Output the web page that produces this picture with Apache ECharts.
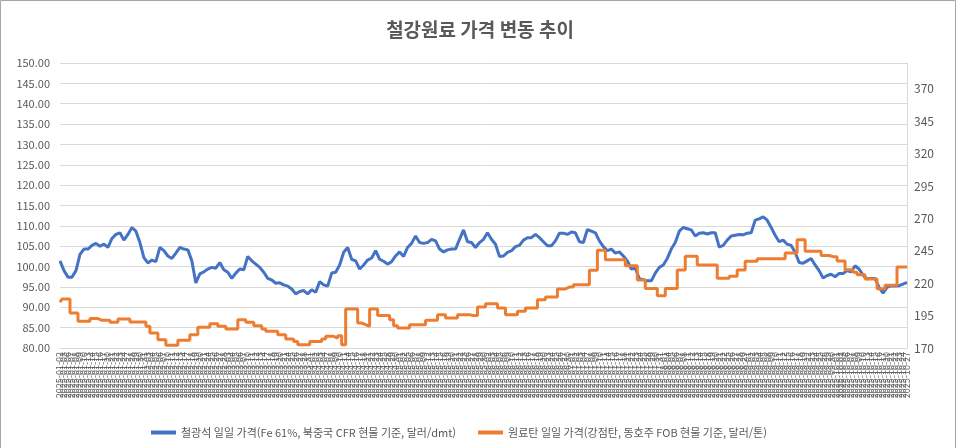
<!DOCTYPE html>
<html lang="ko">
<head>
    <meta charset="UTF-8">
    <title>철강원료 가격 변동 추이</title>
    <script src="https://cdn.jsdelivr.net/npm/echarts@6/dist/echarts.min.js"></script>
    <style>
        *{margin:0;padding:0;}
        body,html{width:100%;height:100%;overflow:hidden;background:#fff;}
        .box{width:960px;height:448px;}
    </style>
</head>
<body>
<div class="box"></div>
<script>
    // 철광석 (좌축, 달러/dmt)
    let ironOre = [
        101.4, 99.0, 97.4, 97.4, 99.0, 103.0, 104.3, 104.3, 105.2, 105.7,
        105.0, 105.5, 104.7, 106.9, 107.9, 108.3, 106.5, 107.9, 109.6, 108.7,
        105.9, 102.2, 100.9, 101.6, 101.2, 104.7, 103.9, 102.6, 102.0, 103.3,
        104.7, 104.3, 104.1, 101.4, 96.0, 98.2, 98.7, 99.4, 99.8, 99.6,
        101.0, 99.2, 98.6, 97.1, 98.4, 99.4, 99.2, 102.5, 101.4, 100.6,
        99.8, 98.6, 97.1, 96.7, 95.9, 96.0, 95.5, 95.2, 94.5, 93.3,
        93.9, 94.1, 93.3, 94.3, 93.7, 96.3, 95.5, 95.2, 98.4, 98.6,
        100.4, 103.5,
        104.7, 101.8, 101.4, 99.4, 100.4, 101.6, 102.1, 103.9, 101.8, 101.3,
        100.6, 101.2, 102.6, 103.6, 102.5, 104.7, 105.7, 107.5, 105.9, 105.7,
        105.9, 106.7, 106.3, 104.3, 103.6, 104.1, 104.3, 104.3, 106.7, 109.0,
        106.1, 105.9, 104.7, 105.9, 106.7, 108.3, 106.7, 105.5, 102.5, 102.6,
        103.5, 103.9, 104.9, 105.2, 106.5, 107.1, 107.1, 107.9, 107.1, 106.1,
        105.1, 105.1, 106.3, 108.2, 108.2, 107.9, 108.5, 108.3, 106.1, 105.9,
        109.1, 108.7, 108.3, 106.3, 104.9, 103.9, 104.3, 103.3, 103.6, 102.6,
        101.4, 99.4, 99.6, 97.0, 96.8, 96.5, 96.5, 98.4, 99.8, 100.4,
        102.0, 104.3, 105.9, 108.7, 109.6, 109.3, 109.0, 107.5, 108.2, 108.3,
        108.0, 108.3, 108.3, 104.8, 105.2, 106.5, 107.5, 107.7, 107.9, 107.8,
        108.2, 108.3, 111.4, 111.7, 112.2, 111.4, 109.6, 107.7, 106.1, 106.5,
        105.5, 105.2, 103.5, 101.0, 100.8, 101.4, 102.0, 100.4, 99.0, 97.2,
        97.8, 98.1, 97.5, 98.3, 98.3, 99.0, 98.7, 100.2, 99.4, 97.9,
        97.0, 97.1, 97.1, 94.9, 93.5, 94.9, 95.3, 95.2, 95.3, 95.7, 96.1
    ];

    // 원료탄 (우축, 달러/톤)
    let cokingCoal = [
        205.3, 207.8, 207.8, 197.0, 197.0, 190.6, 190.6, 190.6, 192.7, 192.7,
        191.4, 191.4, 191.4, 189.8, 189.8, 192.4, 192.4, 192.4, 190.1, 190.1,
        190.1, 190.1, 186.7, 181.6, 181.6, 176.4, 176.4, 172.1, 172.1, 172.1,
        175.9, 175.9, 175.9, 180.3, 180.3, 186.0, 186.0, 186.0, 188.8, 188.8,
        186.7, 186.7, 184.7, 184.7, 184.7, 191.9, 191.9, 189.8, 189.8, 187.2,
        187.2, 184.7, 182.9, 182.9, 182.9, 180.3, 180.3, 176.9, 176.9, 175.1,
        172.6, 172.6, 172.6, 175.1, 175.1, 175.1, 176.9, 179.0, 179.0, 177.7,
        179.5, 172.6,
        200.1, 200.1, 200.1, 189.3, 188.0, 186.7, 200.1, 200.1, 195.0, 195.0,
        195.0, 191.9, 187.2, 185.4, 185.4, 185.4, 188.0, 188.0, 188.0, 188.0,
        191.4, 191.4, 191.4, 195.7, 195.7, 193.2, 193.2, 193.2, 195.7, 195.7,
        195.7, 195.0, 195.0, 201.7, 201.7, 204.2, 204.2, 204.2, 200.9, 200.9,
        195.7, 195.7, 195.7, 198.3, 198.3, 200.9, 200.9, 200.9, 207.3, 207.3,
        209.4, 209.4, 209.4, 215.6, 215.6, 217.1, 217.1, 218.9, 218.9, 218.9,
        218.9, 230.0, 230.0, 245.4, 245.4, 238.2, 238.2, 238.2, 238.2, 238.2,
        233.5, 233.5, 233.5, 222.5, 222.5, 216.0, 216.0, 216.0, 210.4, 210.4,
        216.0, 216.0, 216.0, 230.3, 230.3, 240.8, 240.8, 240.8, 234.0, 234.0,
        234.0, 234.0, 234.0, 223.8, 223.8, 223.8, 225.4, 225.4, 230.3, 230.3,
        236.9, 236.9, 236.9, 238.8, 238.8, 238.8, 238.8, 238.8, 238.8, 238.8,
        243.4, 243.4, 243.4, 253.6, 253.6, 244.6, 244.6, 244.6, 244.6, 241.4,
        241.4, 240.5, 240.5, 237.2, 237.2, 230.5, 230.5, 228.4, 226.6, 226.6,
        223.3, 223.3, 223.3, 215.7, 215.7, 218.5, 218.5, 218.5, 232.6, 232.6, 232.6
    ];

    let seriesNames = [
        '철광석 일일 가격(Fe 61%, 북중국 CFR 현물 기준, 달러/dmt)',
        '원료탄 일일 가격(강점탄, 동호주 FOB 현물 기준, 달러/톤)'
    ];

    // 날짜 라벨 (영업일)
    let dates = [];
    let d = new Date(Date.UTC(2025, 0, 2));
    while (dates.length < ironOre.length) {
        let wd = d.getUTCDay();
        if (wd != 0 && wd != 6) {
            dates.push(d.toISOString().slice(0, 10));
        }
        d.setUTCDate(d.getUTCDate() + 1);
    }

    let myChart = echarts.init(document.querySelector('.box'));
    let font = '"Noto Sans CJK KR", "Noto Sans", sans-serif';

    let option = {
        backgroundColor: '#fff',
        textStyle: {fontFamily: font},
        animation: false,
        title: {
            text: '철강원료 가격 변동 추이',
            left: 'center',
            top: 15,
            textStyle: {color: '#595959', fontSize: 19, fontWeight: 'bold', fontFamily: font}
        },
        graphic: [{
            type: 'rect',
            shape: {x: 0.5, y: 0.5, width: 955, height: 460},
            style: {fill: null, stroke: '#a6a6a6', lineWidth: 1},
            silent: true
        }],
        legend: {
            left: 146,
            top: 422,
            itemWidth: 25,
            itemHeight: 4,
            itemGap: 22,
            icon: 'rect',
            textStyle: {color: '#595959', fontSize: 11, fontFamily: font},
            data: seriesNames
        },
        grid: {left: 60, right: 53, top: 63, bottom: 100},
        xAxis: {
            type: 'category',
            data: dates,
            boundaryGap: false,
            axisLine: {lineStyle: {color: '#d9d9d9'}},
            axisTick: {show: false},
            axisLabel: {
                interval: 0,
                rotate: 90,
                fontSize: 9,
                color: '#595959',
                margin: 4,
                hideOverlap: false
            }
        },
        yAxis: [{
            type: 'value',
            min: 80,
            max: 150,
            interval: 5,
            axisLine: {show: false},
            axisTick: {show: false},
            splitLine: {lineStyle: {color: '#d9d9d9'}},
            axisLabel: {
                color: '#595959',
                fontSize: 11,
                margin: 10,
                formatter: v => v.toFixed(2)
            }
        }, {
            type: 'value',
            min: 170,
            max: 390,
            interval: 25,
            position: 'right',
            axisLine: {show: true, lineStyle: {color: '#d9d9d9'}},
            axisTick: {show: false},
            splitLine: {show: false},
            axisLabel: {
                color: '#595959',
                fontSize: 12,
                margin: 7,
                showMaxLabel: false
            }
        }],
        series: [{
            name: seriesNames[0],
            type: 'line',
            data: ironOre,
            yAxisIndex: 0,
            showSymbol: false,
            lineStyle: {color: '#4472c4', width: 3},
            itemStyle: {color: '#4472c4'}
        }, {
            name: seriesNames[1],
            type: 'line',
            data: cokingCoal,
            yAxisIndex: 1,
            step: 'middle',
            showSymbol: false,
            lineStyle: {color: '#ed7d31', width: 3},
            itemStyle: {color: '#ed7d31'}
        }]
    };

    myChart.setOption(option);
</script>
</body>
</html>
